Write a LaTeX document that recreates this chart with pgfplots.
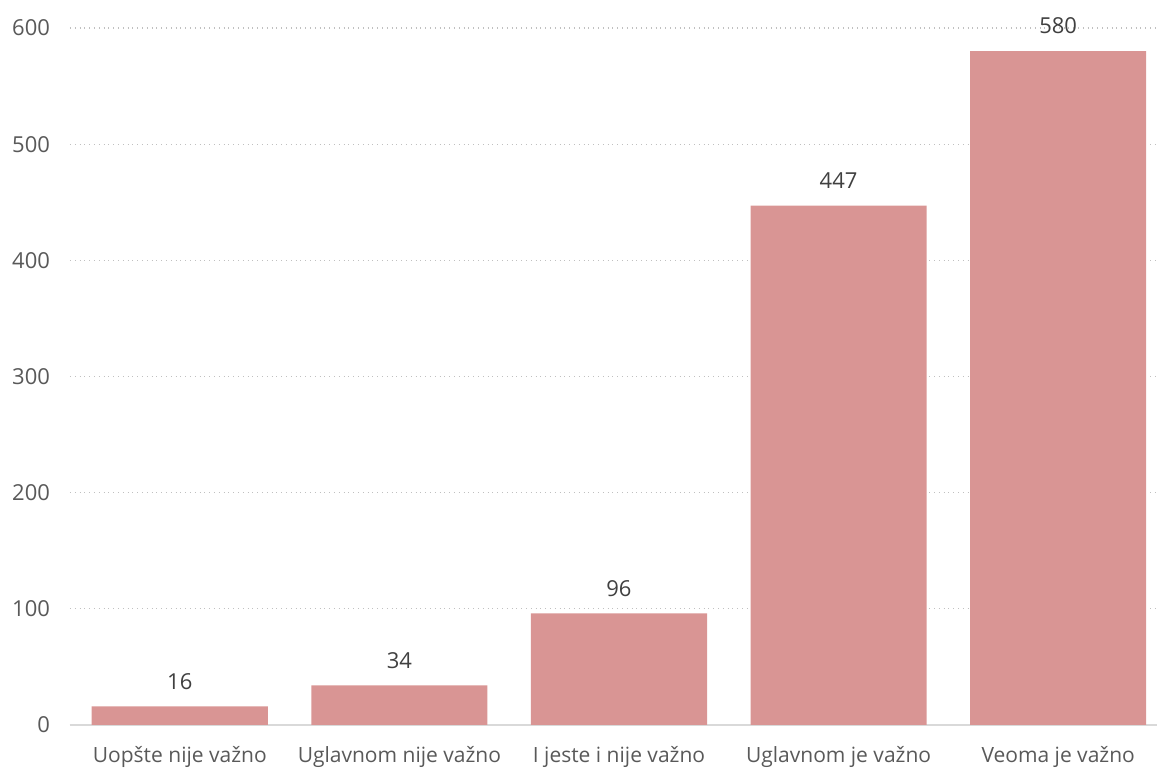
\documentclass[border=0pt]{standalone}
\usepackage{pgfplots}
\pgfplotsset{compat=1.18}
\usepackage{fontspec}
\setmainfont{Open Sans}
\definecolor{barc}{HTML}{D99594}
\definecolor{tickc}{HTML}{595959}
\definecolor{labc}{HTML}{404040}
\definecolor{gridc}{HTML}{C0C0C0}
\definecolor{axc}{HTML}{D9D9D9}
\begin{document}
\begin{tikzpicture}
\path[use as bounding box] (-35pt,-22pt) rectangle (543.5pt,362.5pt);
\begin{axis}[
  scale only axis,
  width=543.5pt, height=348.5pt,
  xmin=-0.5, xmax=4.45,
  ymin=0, ymax=600,
  ytick={0,100,...,600},
  xtick={0,1,2,3,4},
  xticklabels={Uopšte nije važno,Uglavnom nije važno,I jeste i nije važno,Uglavnom je važno,Veoma je važno},
  axis x line*=bottom,
  axis y line*=left,
  y axis line style={draw=none},
  x axis line style={axc, line width=1pt, -},
  ymajorgrids,
  grid style={gridc, dotted, line width=0.6pt},
  major tick length=0pt,
  tick label style={font=\fontsize{10.5}{12}\selectfont, text=tickc},
  yticklabel style={font=\fontsize{11}{12}\selectfont},
  /pgf/number format/assume math mode=true,
  yticklabel style={xshift=-6.5pt},
  xticklabel style={yshift=-7pt},
  clip=false,
]
\addplot[ybar, bar width=0.802, fill=barc, draw=none,
  nodes near coords,
  every node near coord/.append style={font=\fontsize{11}{12}\selectfont, text=labc, yshift=5pt}]
  coordinates {(0,16) (1,34) (2,96) (3,447) (4,580)};
\end{axis}
\end{tikzpicture}
\end{document}
